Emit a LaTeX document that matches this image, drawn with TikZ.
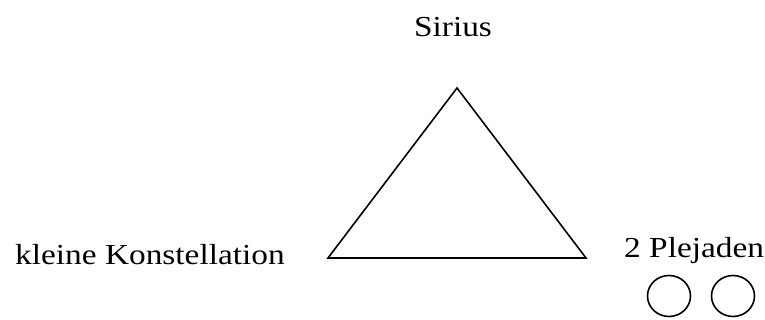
\documentclass[tikz,border=0pt]{standalone}
\usepackage{fontspec}
\usetikzlibrary{shapes.geometric}
\setmainfont[FakeStretch=1.15]{Liberation Serif}
\begin{document}
\begin{tikzpicture}[x=1pt,y=1pt,
  lbl/.style={inner sep=0pt, font=\fontsize{29}{34}\selectfont},
  shape line/.style={draw=black, line width=1.6pt, line join=miter},
  plej/.style={draw=black, line width=1.6pt, ellipse, minimum width=43pt, minimum height=41pt, inner sep=0pt}]
\useasboundingbox (0,0) rectangle (765,320);
% triangle
\coordinate (apex) at (457,232);
\coordinate (bl) at (328,62);
\coordinate (br) at (586,62);
\draw[shape line] (apex) -- (bl) -- (br) -- cycle;
% labels
\node[lbl, anchor=base] (sirius) at (453,283.3) {Sirius};
\node[lbl, anchor=base west] (klein) at (15,55) {kleine Konstellation};
\node[lbl, anchor=base west] (plej) at (624,62) {2 Plejaden};
% circles
\node[plej] (c1) at (669,24) {};
\node[plej] (c2) at (733,24) {};
\end{tikzpicture}
\end{document}
